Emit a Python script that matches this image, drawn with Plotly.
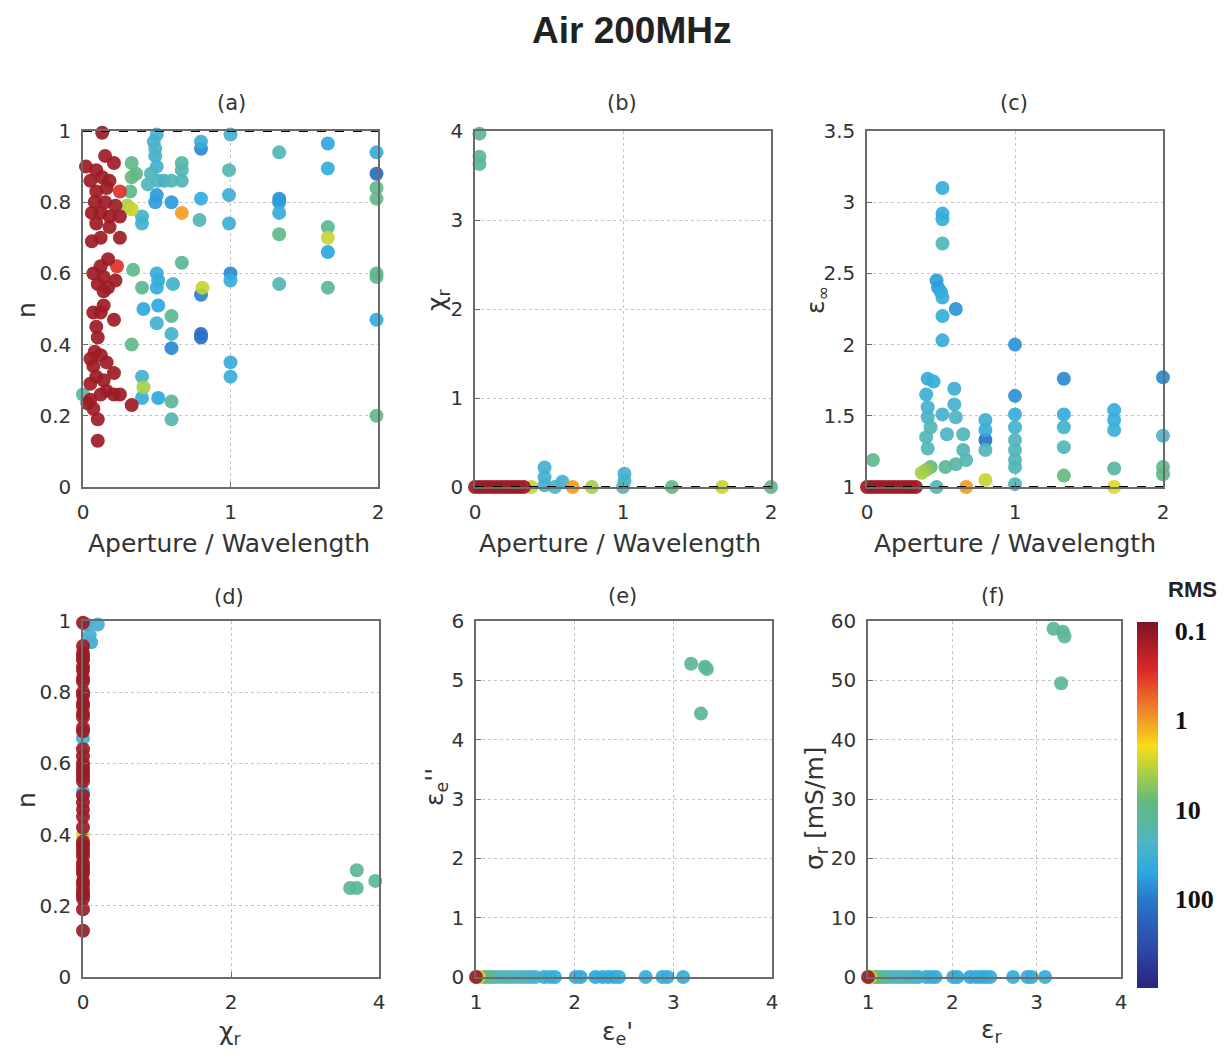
import numpy as np
import plotly.graph_objects as go

# ---------------- DATA ----------------
# (a) n vs Aperture/Wavelength
a_ap = [0.13, 0.02, 0.09, 0.15, 0.21, 0.05, 0.13, 0.18, 0.25, 0.09, 0.16, 0.08, 0.15, 0.22, 0.06, 0.12,
        0.18, 0.25, 0.09, 0.18, 0.12, 0.25, 0.06, 0.12, 0.17, 0.23, 0.07, 0.14, 0.22, 0.10, 0.17, 0.14,
        0.14, 0.07, 0.12, 0.21, 0.09, 0.10, 0.08, 0.05, 0.12, 0.16, 0.07, 0.21, 0.09, 0.14, 0.05, 0.16,
        0.21, 0.25, 0.12, 0.33, 0.05, 0.03, 0.07, 0.10, 0.10,
        0.33, 0.36, 0.33, 0.32, 0.30, 0.33, 0.40, 0.40, 0.34, 0.40, 0.41, 0.33, 0.40, 0.41, 0.40, 0.00,
        0.50, 0.48, 0.49, 0.49, 0.50, 0.46, 0.51, 0.44, 0.55, 0.50, 0.49, 0.60, 0.50, 0.51, 0.50, 0.61,
        0.51, 0.50, 0.51,
        0.67, 0.67, 0.60, 0.67, 0.67, 0.67, 0.60, 0.60, 0.60, 0.60, 0.60,
        0.80, 0.80, 0.80, 0.79, 0.81, 0.80, 0.80, 0.80,
        1.00, 0.99, 0.99, 0.99, 1.00, 1.00, 1.00, 1.00,
        1.33, 1.33, 1.33, 1.33, 1.33, 1.33,
        1.66, 1.66, 1.66, 1.66, 1.66, 1.66,
        1.99, 1.99, 1.99, 1.99, 1.99, 1.99, 1.99, 1.99]
a_n = [0.995, 0.90, 0.89, 0.93, 0.91, 0.86, 0.87, 0.86, 0.83, 0.83, 0.84, 0.80, 0.80, 0.79, 0.77, 0.77,
       0.76, 0.76, 0.74, 0.73, 0.70, 0.70, 0.69, 0.62, 0.64, 0.62, 0.60, 0.59, 0.58, 0.57, 0.56, 0.55,
       0.51, 0.49, 0.49, 0.47, 0.45, 0.42, 0.38, 0.36, 0.37, 0.35, 0.34, 0.32, 0.31, 0.30, 0.29, 0.27,
       0.26, 0.26, 0.26, 0.23, 0.245, 0.235, 0.22, 0.19, 0.13,
       0.91, 0.88, 0.87, 0.83, 0.79, 0.78, 0.76, 0.74, 0.61, 0.56, 0.50, 0.40, 0.31, 0.28, 0.25, 0.26,
       0.99, 0.97, 0.95, 0.93, 0.90, 0.88, 0.86, 0.85, 0.86, 0.82, 0.80, 0.80, 0.60, 0.58, 0.56, 0.57,
       0.51, 0.46, 0.25,
       0.91, 0.89, 0.86, 0.86, 0.77, 0.63, 0.48, 0.43, 0.39, 0.24, 0.19,
       0.97, 0.95, 0.81, 0.75, 0.56, 0.54, 0.43, 0.42,
       0.99, 0.89, 0.82, 0.74, 0.60, 0.58, 0.35, 0.31,
       0.94, 0.81, 0.80, 0.77, 0.71, 0.57,
       0.965, 0.895, 0.73, 0.70, 0.66, 0.56,
       0.94, 0.88, 0.84, 0.81, 0.60, 0.59, 0.47, 0.20]
a_rms = [0.12] * 8 + [0.3] + [0.12] * 16 + [0.3] + [0.12] * 31 + \
        [10, 10, 8, 10, 4, 3, 30, 30, 10, 12, 50, 10, 30, 4, 40, 15,
         30, 30, 25, 30, 30, 20, 25, 20, 30, 60, 60, 60, 40, 40, 40, 30,
         50, 30, 50,
         15, 20, 20, 20, 1.0, 12, 12, 30, 80, 12, 18,
         35, 80, 45, 20, 3, 90, 150, 120,
         30, 18, 35, 35, 80, 40, 40, 40,
         20, 70, 60, 40, 10, 18,
         50, 40, 12, 3, 50, 12,
         40, 150, 10, 10, 10, 10, 45, 10]

# (b) chi_r vs Aperture/Wavelength
b_ap = [0.03, 0.03, 0.03,
        0.00, 0.03, 0.06, 0.09, 0.12, 0.15, 0.18, 0.21, 0.24, 0.27, 0.30, 0.33,
        0.38, 0.47, 0.47, 0.47, 0.59, 0.54, 0.66, 0.79, 1.01, 1.01, 1.00, 1.33, 1.67, 2.00]
b_chi = [3.97, 3.71, 3.63,
         0, 0, 0, 0, 0, 0, 0, 0, 0, 0, 0, 0,
         0, 0.22, 0.11, 0.02, 0.06, 0.0, 0, 0, 0.15, 0.07, 0.0, 0, 0, 0]
b_rms = [12, 12, 12] + [0.12] * 12 + [3, 30, 30, 30, 30, 25, 1.0, 4, 30, 30, 20, 10, 3, 10]

# (c) eps_inf vs Aperture/Wavelength
c_ap = [0.04,
        0.00, 0.03, 0.06, 0.09, 0.12, 0.15, 0.18, 0.21, 0.24, 0.27, 0.30, 0.33,
        0.37, 0.40, 0.43,
        0.41, 0.45, 0.40, 0.41, 0.41, 0.43, 0.40, 0.41, 0.47,
        0.51, 0.51, 0.51, 0.51, 0.47, 0.48, 0.50, 0.51, 0.51, 0.51, 0.60,
        0.51, 0.54, 0.53,
        0.59, 0.59, 0.60, 0.60, 0.65, 0.65, 0.67, 0.67,
        0.80, 0.80, 0.80, 0.80, 0.80,
        1.00, 1.00, 1.00, 1.00, 1.00, 1.00, 1.00, 1.00, 1.00,
        1.33, 1.33, 1.33, 1.33, 1.33,
        1.67, 1.67, 1.67, 1.67, 1.67,
        2.00, 2.00, 2.00, 2.00]
c_eps = [1.19,
         1, 1, 1, 1, 1, 1, 1, 1, 1, 1, 1, 1,
         1.10, 1.12, 1.14,
         1.76, 1.74, 1.65, 1.56, 1.49, 1.42, 1.35, 1.27, 1.00,
         3.10, 2.92, 2.88, 2.71, 2.45, 2.40, 2.37, 2.33, 2.20, 2.03, 2.25,
         1.51, 1.37, 1.14,
         1.69, 1.58, 1.49, 1.16, 1.37, 1.26, 1.19, 1.00,
         1.47, 1.40, 1.33, 1.26, 1.05,
         2.00, 1.64, 1.51, 1.42, 1.33, 1.26, 1.19, 1.14, 1.02,
         1.76, 1.51, 1.42, 1.28, 1.08,
         1.54, 1.47, 1.40, 1.13, 1.00,
         1.77, 1.36, 1.14, 1.09]
c_rms = [10] + [0.12] * 12 + [4, 5, 8,
         40, 40, 35, 30, 25, 20, 20, 20, 20,
         40, 40, 40, 20, 60, 60, 50, 40, 40, 40, 70,
         30, 25, 12,
         35, 30, 25, 15, 20, 20, 18, 1.0,
         35, 40, 120, 20, 3,
         70, 70, 40, 30, 20, 20, 20, 20, 20,
         80, 40, 30, 20, 8,
         40, 40, 35, 15, 2.5,
         80, 25, 10, 10]

# (d) n vs chi_r
d_chi = [0.0] * 47 + [0.0, 0.0, 0.0, 0.20, 0.05, 0.09, 0.11, 3.70, 3.61, 3.70, 3.95]
d_n = [0.995, 0.93, 0.91, 0.90, 0.89, 0.87, 0.86, 0.84, 0.83, 0.80, 0.79, 0.77, 0.76, 0.74, 0.73, 0.70,
       0.69, 0.64, 0.62, 0.60, 0.59, 0.58, 0.57, 0.56, 0.55, 0.51, 0.49, 0.47, 0.45, 0.42, 0.38, 0.37,
       0.36, 0.35, 0.34, 0.32, 0.31, 0.30, 0.29, 0.27, 0.26, 0.245, 0.235, 0.23, 0.22, 0.19, 0.13,
       0.67, 0.52, 0.40, 0.99, 0.99, 0.96, 0.94, 0.30, 0.25, 0.25, 0.27]
d_rms = [0.12] * 47 + [30, 40, 3, 30, 30, 30, 35, 12, 12, 12, 12]

# (e) eps_e'' vs eps_e'  and (f) sigma_r vs eps_r : shared zero-loss models
line_eps = [1.00, 1.03, 1.08, 1.12, 1.16, 1.20, 1.25, 1.30, 1.35, 1.40, 1.45, 1.50, 1.55, 1.60,
            1.69, 1.75, 1.80, 2.01, 2.06, 2.21, 2.28, 2.34, 2.40, 2.45, 2.72, 2.89, 2.94, 3.10]
line_rms = [0.12, 3, 8, 10, 15, 20, 20, 20, 20, 25, 25, 25, 30, 30,
            40, 40, 40, 40, 50, 50, 45, 50, 50, 40, 40, 40, 40, 40]
e_eps1 = [3.18, 3.32, 3.34, 3.28]
e_eps2 = [5.28, 5.23, 5.19, 4.44]
e_rms = [12, 12, 12, 12]
f_eps = [3.20, 3.31, 3.33, 3.29]
f_sigma = [58.7, 58.2, 57.4, 49.5]
f_rms = [12, 12, 12, 12]

# colorbar ticks (RMS, log scale)
rms_ticks = [0.1, 1, 10, 100]
rms_ticktext = ["0.1", "1", "10", "100"]

# ---------------- FIGURE ----------------
OFF = 8                      # page body margin of the html page
W, H = 1232 - OFF, 1057 - OFF
SANS = "DejaVu Sans"

cs = [
    [0.0, 'rgb(45,35,125)'],
    [0.10, 'rgb(45,70,165)'],
    [0.24, 'rgb(40,120,200)'],
    [0.32, 'rgb(45,170,225)'],
    [0.40, 'rgb(80,180,195)'],
    [0.51, 'rgb(100,185,125)'],
    [0.60, 'rgb(180,210,60)'],
    [0.66, 'rgb(250,220,25)'],
    [0.76, 'rgb(240,130,40)'],
    [0.87, 'rgb(220,40,40)'],
    [1.0, 'rgb(125,20,35)'],
]


def fx(p):
    return (p - OFF) / W


def fy(p):
    return 1 - (p - OFF) / H


def pts(x, y, rms, n):
    x = np.asarray(x, float)
    y = np.asarray(y, float)
    r = np.asarray(rms, float)
    order = np.argsort(-r, kind="stable")
    return go.Scatter(
        x=x[order], y=y[order], mode="markers",
        marker=dict(size=14, color=-np.log10(r[order]), coloraxis="coloraxis",
                    line=dict(width=0), opacity=0.92),
        xaxis="x" + n, yaxis="y" + n, cliponaxis=False,
        hoverinfo="skip", showlegend=False)


def dashed(x, y, n):
    return go.Scatter(x=x, y=y, mode="lines", line=dict(color="black", width=2, dash="dash"),
                      xaxis="x" + n, yaxis="y" + n, cliponaxis=False, hoverinfo="skip",
                      showlegend=False)


fig = go.Figure()
fig.add_trace(pts(a_ap, a_n, a_rms, ""))
fig.add_trace(dashed([0, 2], [1, 1], ""))
fig.add_trace(pts(b_ap, b_chi, b_rms, "2"))
fig.add_trace(dashed([0, 2], [0, 0], "2"))
fig.add_trace(pts(c_ap, c_eps, c_rms, "3"))
fig.add_trace(dashed([0, 2], [1, 1], "3"))
fig.add_trace(pts(d_chi, d_n, d_rms, "4"))
fig.add_trace(pts(line_eps + e_eps1, [0] * len(line_eps) + e_eps2, line_rms + e_rms, "5"))
fig.add_trace(pts(line_eps + f_eps, [0] * len(line_eps) + f_sigma, line_rms + f_rms, "6"))


def axis(dom, rng, tickvals, anchor):
    return dict(domain=dom, range=rng, tickvals=tickvals, anchor=anchor,
                showline=True, mirror=True, linecolor="#6b6b6b", linewidth=1.5,
                ticks="inside", ticklen=5, tickcolor="#6b6b6b",
                showgrid=True, gridcolor="#c4c4c4", griddash="dot", gridwidth=1,
                zeroline=False, ticklabelstandoff=6, automargin=False,
                tickfont=dict(family=SANS, size=20, color="#333"), fixedrange=True)


def px(a, b):
    return [fx(a), fx(b)]


def py(top, bottom):
    return [fy(bottom), fy(top)]


top_row = py(131, 487)
bot_row = py(621, 977)

layout_axes = dict(
    xaxis=axis(px(83, 378), [0, 2], [0, 1, 2], "y"),
    yaxis=axis(top_row, [0, 1], [0, 0.2, 0.4, 0.6, 0.8, 1], "x"),
    xaxis2=axis(px(475, 771), [0, 2], [0, 1, 2], "y2"),
    yaxis2=axis(top_row, [0, 4], [0, 1, 2, 3, 4], "x2"),
    xaxis3=axis(px(867, 1163), [0, 2], [0, 1, 2], "y3"),
    yaxis3=axis(top_row, [1, 3.5], [1, 1.5, 2, 2.5, 3, 3.5], "x3"),
    xaxis4=axis(px(83, 379), [0, 4], [0, 2, 4], "y4"),
    yaxis4=axis(bot_row, [0, 1], [0, 0.2, 0.4, 0.6, 0.8, 1], "x4"),
    xaxis5=axis(px(476, 772), [1, 4], [1, 2, 3, 4], "y5"),
    yaxis5=axis(bot_row, [0, 6], [0, 1, 2, 3, 4, 5, 6], "x5"),
    xaxis6=axis(px(868, 1121), [1, 4], [1, 2, 3, 4], "y6"),
    yaxis6=axis(bot_row, [0, 60], [0, 10, 20, 30, 40, 50, 60], "x6"),
)

cb_top, cb_bot = 622, 988
fig.update_layout(
    width=W, height=H, margin=dict(l=0, r=0, t=0, b=0, autoexpand=False),
    plot_bgcolor="white", paper_bgcolor="white", showlegend=False,
    coloraxis=dict(
        colorscale=cs, cmin=-3.0, cmax=1.1,
        colorbar=dict(
            x=fx(1137), xanchor="left", y=fy((cb_top + cb_bot) / 2), yanchor="middle",
            len=(cb_bot - cb_top) / H, lenmode="fraction", thickness=21, thicknessmode="pixels",
            xpad=0, ypad=0, outlinewidth=0,
            tickvals=[-np.log10(v) for v in rms_ticks], ticktext=rms_ticktext,
            ticks="outside", ticklen=12, tickcolor="rgba(0,0,0,0)",
            tickfont=dict(family="Liberation Serif", size=26, color="#111", weight="bold"),
        ),
    ),
    **layout_axes,
)

ann = []


def text(t, x, y, size, angle=0, family=SANS, color="#333"):
    ann.append(dict(text=t, x=fx(x), y=fy(y), xref="paper", yref="paper",
                    showarrow=False, xanchor="center", yanchor="middle", borderpad=0,
                    textangle=angle, font=dict(family=family, size=size, color=color)))


text("<b>Air 200MHz</b>", 631, 31, 37, family="Liberation Sans", color="#222")
for lab, x, y in [("(a)", 231, 103), ("(b)", 622, 103), ("(c)", 1014, 103),
                  ("(d)", 229, 597), ("(e)", 622, 596), ("(f)", 993, 596)]:
    text(lab, x, y, 21)
for x in (229, 620, 1015):
    text("Aperture / Wavelength", x, 543, 25)
text("χ<sub>r</sub>", 230, 1033, 25)
text("ε<sub>e</sub>'", 617, 1033, 25)
text("ε<sub>r</sub>", 992, 1031, 25)
text("n", 26, 310, 25, angle=-90)
text("χ<sub>r</sub>", 438, 300, 25, angle=-90)
text("ε<sub>∞</sub>", 817, 300, 25, angle=-90)
text("n", 26, 800, 25, angle=-90)
text("ε<sub>e</sub>''", 436, 787, 25, angle=-90)
text("σ<sub>r</sub> [mS/m]", 816, 808, 25, angle=-90)
text("<b>RMS</b>", 1192, 589, 22, family="Liberation Sans", color="#222")

fig.update_layout(annotations=ann)
fig.write_html("out.html")
